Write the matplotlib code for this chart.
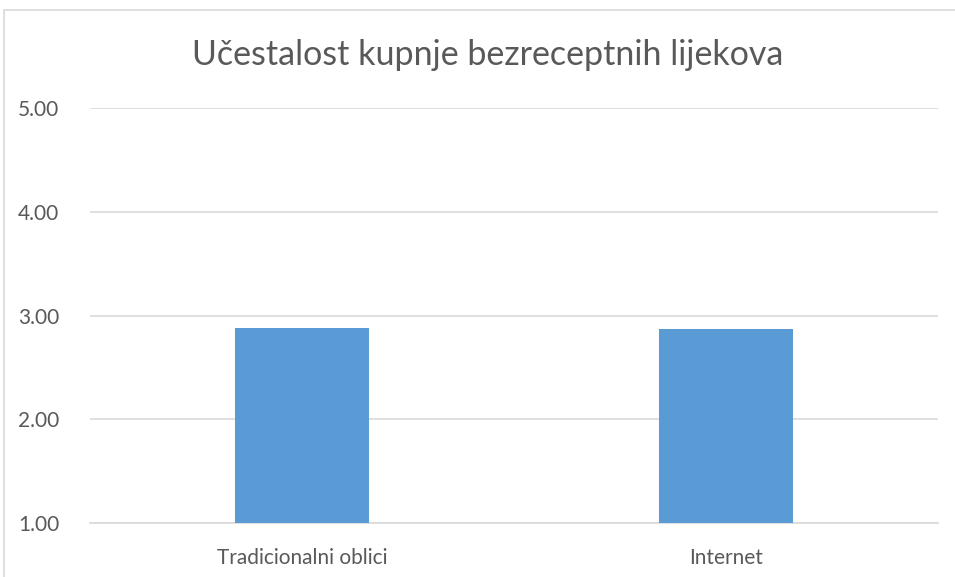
import matplotlib.pyplot as plt
from matplotlib.patches import Rectangle

categories = ['Tradicionalni oblici', 'Internet']
values = [2.88, 2.87]
yticks = [1.0, 2.0, 3.0, 4.0, 5.0]

plt.rcParams['font.family'] = ['Lato', 'DejaVu Sans']

fig = plt.figure(figsize=(9.55, 5.77), dpi=100)
ax = fig.add_axes([90 / 955, 1 - 523 / 577, (938 - 90) / 955, (523 - 108) / 577])

x = range(len(categories))
ax.bar(x, [v - 1 for v in values], bottom=1, width=0.316, color='#5b9bd5', zorder=3)

ax.set_xlim(-0.5, 1.5)
ax.set_ylim(1, 5)
ax.set_yticks(yticks)
ax.set_yticklabels(['%.2f' % t for t in yticks])
ax.set_xticks(list(x))
ax.set_xticklabels(categories)
ax.tick_params(axis='both', length=0, labelsize=15, colors='#595959')
ax.tick_params(axis='y', pad=22)
ax.tick_params(axis='x', pad=18)
ax.grid(axis='y', color='#d9d9d9', linewidth=1.2, zorder=0)
for s in ['top', 'right', 'left']:
    ax.spines[s].set_visible(False)
ax.spines['bottom'].set_color('#d9d9d9')
ax.spines['bottom'].set_linewidth(1.2)

fig.text(488 / 955, 1 - 55 / 577, 'Učestalost kupnje bezreceptnih lijekova',
         ha='center', va='center', fontsize=24.5, color='#595959')

# chart border
fig.patches.append(Rectangle((4 / 955, -0.1), 1.2, 1 - 10 / 577 + 0.1,
                             transform=fig.transFigure, fill=False,
                             edgecolor='#d9d9d9', linewidth=1.2))

fig.savefig('out.png', dpi=100)
